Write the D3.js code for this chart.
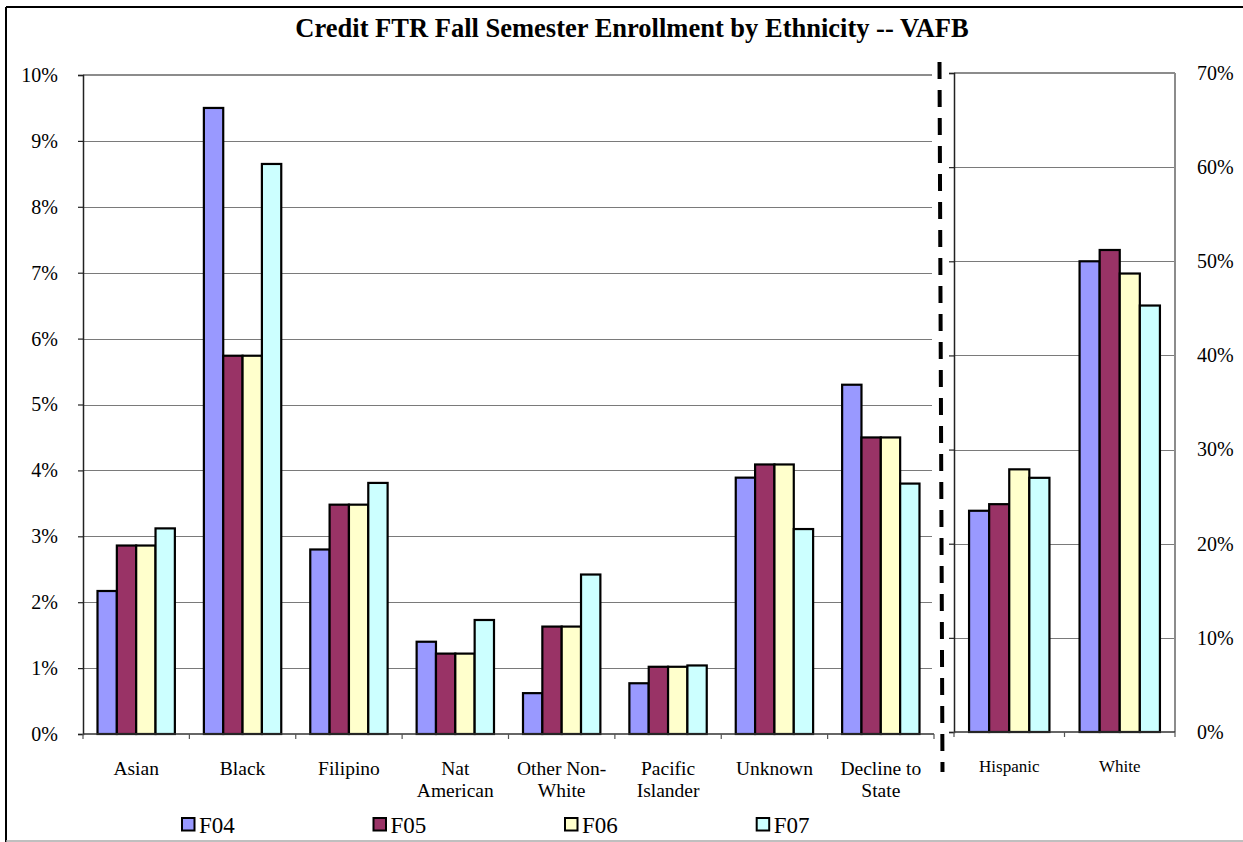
<!DOCTYPE html>
<html>
<head>
<meta charset="utf-8">
<script src="https://cdn.jsdelivr.net/npm/d3@7"></script>
<style>
  html, body { margin: 0; padding: 0; background: #fff; }
  svg { display: block; }
  svg text { font-family: "Liberation Serif", "Times New Roman", serif !important; fill: #000; }
</style>
</head>
<body>
<svg id="chart" width="1243" height="842"></svg>
<script>
// ---- data ----
const title = "Credit FTR Fall Semester Enrollment by Ethnicity -- VAFB";
const series = ["F04", "F05", "F06", "F07"];
const seriesColors = ["#9999FF", "#993366", "#FFFFCC", "#CCFFFF"];

const leftCategories = ["Asian", "Black", "Filipino", "Nat American", "Other Non-White", "Pacific Islander", "Unknown", "Decline to State"];
const leftLabelLines = [["Asian"], ["Black"], ["Filipino"], ["Nat", "American"], ["Other Non-", "White"], ["Pacific", "Islander"], ["Unknown"], ["Decline to", "State"]];
const leftF04 = [2.17, 9.50, 2.80, 1.40, 0.62, 0.77, 3.89, 5.30];
const leftF05 = [2.86, 5.74, 3.48, 1.22, 1.63, 1.02, 4.09, 4.50];
const leftF06 = [2.86, 5.74, 3.48, 1.22, 1.63, 1.02, 4.09, 4.50];
const leftF07 = [3.12, 8.65, 3.81, 1.73, 2.42, 1.04, 3.11, 3.80];
const leftTicks = [0, 1, 2, 3, 4, 5, 6, 7, 8, 9, 10];

const rightCategories = ["Hispanic", "White"];
const rightF04 = [23.5, 50.0];
const rightF05 = [24.2, 51.2];
const rightF06 = [27.9, 48.7];
const rightF07 = [27.0, 45.3];
const rightTicks = [0, 10, 20, 30, 40, 50, 60, 70];

// ---- layout ----
const svg = d3.select("#chart");
const L = { x0: 83, x1: 934, yTop: 75, yBot: 734 };
const R = { x0: 954, x1: 1175, yTop: 73, yBot: 732 };

// outer frame
svg.append("line").attr("x1", 6).attr("y1", 7).attr("x2", 1243).attr("y2", 7).attr("stroke", "#000").attr("stroke-width", 2);
svg.append("line").attr("x1", 6).attr("y1", 7).attr("x2", 6).attr("y2", 842).attr("stroke", "#000").attr("stroke-width", 2);
svg.append("line").attr("x1", 6).attr("y1", 841).attr("x2", 1243).attr("y2", 841).attr("stroke", "#aaa").attr("stroke-width", 1.5);

// title
svg.append("text").attr("x", 632).attr("y", 37).attr("text-anchor", "middle")
  .attr("font-weight", "bold").attr("font-size", 26.5).text(title);

function buildPanel(P, cats, rows, yMax, opts) {
  const x0 = d3.scaleBand().domain(cats).range([P.x0, P.x1]).paddingInner(0).paddingOuter(0);
  const step = x0.bandwidth();
  const w = step / 5.5;
  const x1 = d3.scaleBand().domain(series).range([0.75 * w, step - 0.75 * w]).padding(0);
  const y = d3.scaleLinear().domain([0, yMax]).range([P.yBot, P.yTop]);
  const g = svg.append("g");

  const ticks = opts.ticks;
  g.selectAll("line.grid").data(ticks.filter(t => t > 0 && t < yMax)).enter().append("line")
    .attr("x1", P.x0).attr("x2", opts.gridEnd).attr("y1", d => Math.round(y(d)) + 0.5).attr("y2", d => Math.round(y(d)) + 0.5)
    .attr("stroke", "#7a7a7a").attr("stroke-width", 1.2);
  g.append("line").attr("x1", P.x0).attr("x2", opts.gridEnd).attr("y1", y(yMax)).attr("y2", y(yMax))
    .attr("stroke", "#8c8c8c").attr("stroke-width", 2);
  if (opts.rightBorder) {
    g.append("line").attr("x1", P.x1).attr("x2", P.x1).attr("y1", y(yMax)).attr("y2", P.yBot)
      .attr("stroke", "#8c8c8c").attr("stroke-width", 2);
  }

  const data = [];
  cats.forEach((c, i) => series.forEach((s, j) => data.push({ c, s, j, v: rows[j][i] })));
  g.selectAll("rect.bar").data(data).enter().append("rect")
    .attr("x", d => x0(d.c) + x1(d.s))
    .attr("width", x1.bandwidth())
    .attr("y", d => y(d.v))
    .attr("height", d => P.yBot - y(d.v))
    .attr("fill", d => seriesColors[d.j])
    .attr("stroke", "#000").attr("stroke-width", 2.2);

  const axL = d3.axisLeft(y).tickValues(ticks).tickSize(5).tickFormat(opts.showLeftLabels ? (d => d + "%") : "").tickPadding(20);
  const gl = g.append("g").attr("transform", `translate(${P.x0},0)`).call(axL);
  gl.attr("font-family", null).attr("font-size", null);
  gl.select(".domain").attr("stroke", "#222").attr("stroke-width", 1.5);
  gl.selectAll(".tick line").attr("stroke", "#222").attr("stroke-width", 1.2);
  gl.selectAll("text").style("font-size", "20px");

  if (opts.rightLabels) {
    const axR = d3.axisRight(y).tickValues(ticks).tickSize(0).tickPadding(22).tickFormat(d => d + "%");
    const gr = g.append("g").attr("transform", `translate(${P.x1},0)`).call(axR);
    gr.attr("font-family", null).attr("font-size", null);
    gr.select(".domain").remove();
    gr.selectAll("text").style("font-size", "20px");
  }

  g.append("line").attr("x1", P.x0).attr("x2", P.x1).attr("y1", P.yBot).attr("y2", P.yBot)
    .attr("stroke", "#333").attr("stroke-width", 1.5);
  const bounds = cats.map(c => x0(c)).concat([P.x1]);
  g.selectAll("line.xt").data(bounds).enter().append("line")
    .attr("x1", d => d).attr("x2", d => d).attr("y1", P.yBot).attr("y2", P.yBot + 5)
    .attr("stroke", "#555").attr("stroke-width", 1.2);

  return { x0, step };
}

const leftP = buildPanel(L, leftCategories, [leftF04, leftF05, leftF06, leftF07], 10,
  { ticks: leftTicks, gridEnd: 932, showLeftLabels: true, rightBorder: false, rightLabels: false });
const rightP = buildPanel(R, rightCategories, [rightF04, rightF05, rightF06, rightF07], 70,
  { ticks: rightTicks, gridEnd: R.x1, showLeftLabels: false, rightBorder: true, rightLabels: true });

leftCategories.forEach((c, i) => {
  const cx = leftP.x0(c) + leftP.step / 2;
  const t = svg.append("text").attr("text-anchor", "middle").attr("font-size", 19.5).attr("x", cx).attr("y", 775);
  leftLabelLines[i].forEach((line, k) => {
    t.append("tspan").attr("x", cx).attr("y", 775 + k * 22).text(line);
  });
});
rightCategories.forEach(c => {
  svg.append("text").attr("text-anchor", "middle").attr("font-size", 17)
    .attr("x", rightP.x0(c) + rightP.step / 2).attr("y", 772).text(c);
});

svg.append("line").attr("x1", 939.5).attr("y1", 62).attr("x2", 942.5).attr("y2", 772)
  .attr("stroke", "#000").attr("stroke-width", 4).attr("stroke-dasharray", "17,11");

const legX = [182, 373.5, 565, 756.7];
series.forEach((s, i) => {
  svg.append("rect").attr("x", legX[i]).attr("y", 818).attr("width", 12.5).attr("height", 12.5)
    .attr("fill", seriesColors[i]).attr("stroke", "#000").attr("stroke-width", 2);
  svg.append("text").attr("x", legX[i] + 17).attr("y", 833).attr("font-size", 23).text(s);
});
</script>
</body>
</html>
